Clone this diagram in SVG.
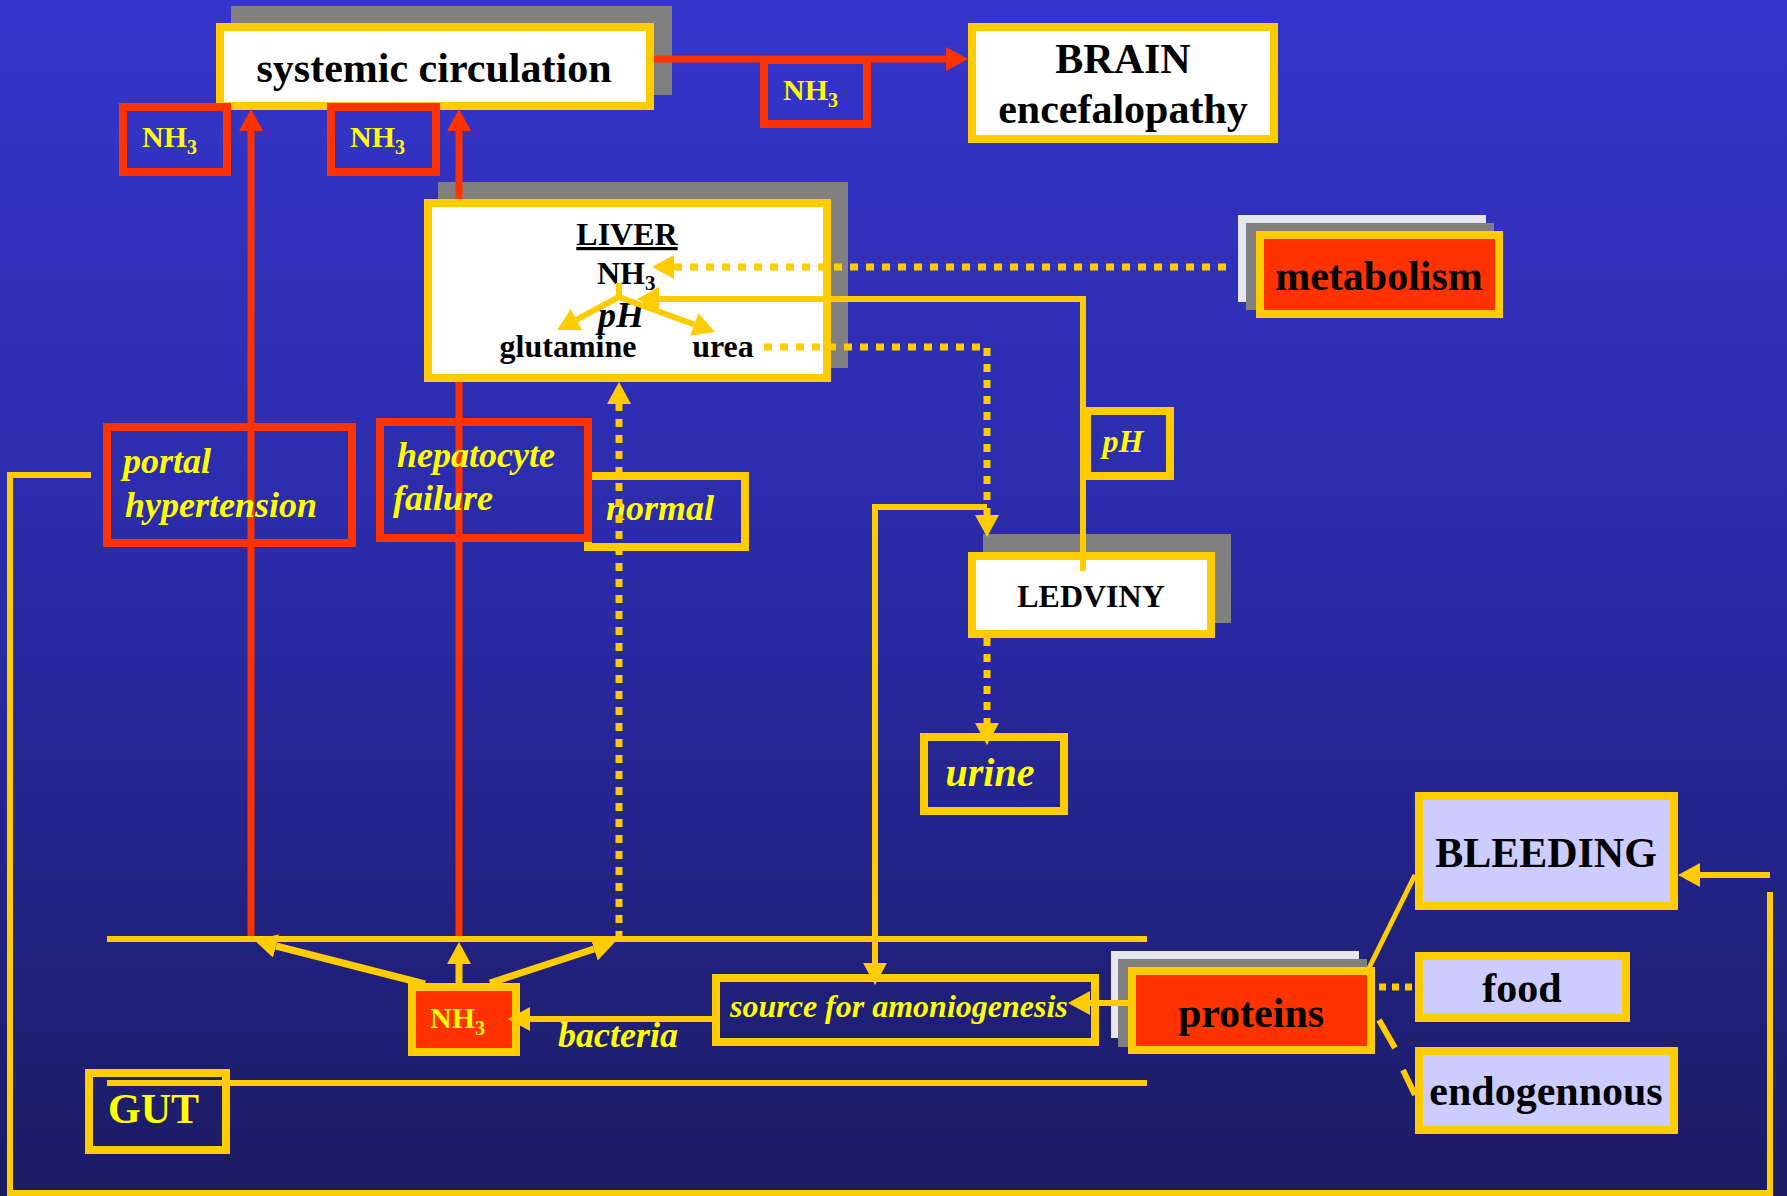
<svg xmlns="http://www.w3.org/2000/svg" width="1787" height="1196" viewBox="0 0 1787 1196">
<defs>
<linearGradient id="bg" x1="0" y1="0" x2="0" y2="1">
<stop offset="0" stop-color="#3535cc"/>
<stop offset="0.5" stop-color="#2a2aa6"/>
<stop offset="1" stop-color="#1b1b62"/>
</linearGradient>
<marker id="ay" viewBox="0 0 22 24" refX="0" refY="12" markerWidth="22" markerHeight="24" markerUnits="userSpaceOnUse" orient="auto"><path d="M0,0 L22,12 L0,24 z" fill="#ffcc00"/></marker>
<marker id="ar" viewBox="0 0 22 24" refX="0" refY="12" markerWidth="22" markerHeight="24" markerUnits="userSpaceOnUse" orient="auto"><path d="M0,0 L22,12 L0,24 z" fill="#ff3300"/></marker>
<style>
.box{stroke:#ffcc00;stroke-width:8}
.wb{fill:#ffffff}
.lav{fill:#ccccff}
.org{fill:#ff3300}
.nf{fill:none}
.rb{stroke:#ff3300;stroke-width:8;fill:none}
.sh{fill:#808080}
.bk{fill:#e6e6ee}
.t{font-family:"Liberation Serif","Times New Roman",serif;font-weight:bold;fill:#000000}
.i{font-style:italic}
.y{fill:#ffff00}
.c{text-anchor:middle}
.ln{stroke:#ffcc00;stroke-width:6;fill:none}
.dt{stroke-dasharray:8 8;stroke-width:7}
.red{stroke:#ff3300;stroke-width:7;fill:none}
</style>
</defs>
<rect x="0" y="0" width="1787" height="1196" fill="url(#bg)"/>

<g id="systemic">
<rect class="sh" x="231" y="6" width="441" height="89"/>
<rect class="box wb" x="220" y="27" width="430" height="79"/>
<text class="t c" x="434" y="82" font-size="42">systemic circulation</text>
</g>
<g id="brain">
<rect class="box wb" x="972" y="27" width="302" height="112"/>
<text class="t c" x="1123" y="73" font-size="42">BRAIN</text>
<text class="t c" x="1123" y="123" font-size="42">encefalopathy</text>
</g>
<g id="nh3-brain">
<rect class="rb" x="764" y="60" width="103" height="64"/>
<text class="t y" x="783" y="100" font-size="30">NH<tspan font-size="20" dy="7">3</tspan></text>
</g>
<g id="nh3-portal">
<rect class="rb" x="123" y="107" width="104" height="65"/>
<text class="t y" x="142" y="147" font-size="30">NH<tspan font-size="20" dy="7">3</tspan></text>
</g>
<g id="nh3-hepatocyte">
<rect class="rb" x="331" y="107" width="105" height="65"/>
<text class="t y" x="350" y="147" font-size="30">NH<tspan font-size="20" dy="7">3</tspan></text>
</g>
<g id="liver">
<rect class="sh" x="438" y="182" width="410" height="186"/>
<rect class="box wb" x="428" y="203" width="399" height="175"/>
<text class="t c" x="627" y="245" font-size="32" text-decoration="underline">LIVER</text>
<text class="t" x="597" y="284" font-size="32">NH<tspan font-size="21" dy="6">3</tspan></text>
<text class="t i c" x="621" y="327" font-size="36">pH</text>
<text class="t c" x="568" y="357" font-size="32">glutamine</text>
<text class="t c" x="723" y="357" font-size="32">urea</text>
</g>
<g id="metabolism">
<rect class="bk" x="1238" y="215" width="248" height="87"/>
<rect class="sh" x="1246" y="223" width="248" height="87"/>
<rect class="box org" x="1260" y="235" width="239" height="79"/>
<text class="t c" x="1379" y="290" font-size="42">metabolism</text>
</g>
<g id="normal">
<rect class="box nf" x="588" y="476" width="157" height="71"/>
<text class="t i y" x="606" y="520" font-size="36">normal</text>
</g>
<g id="ph">
<rect class="box nf" x="1087" y="411" width="83" height="65"/>
<text class="t i y c" x="1123" y="452" font-size="32">pH</text>
</g>
<g id="ledviny">
<rect class="sh" x="983" y="534" width="248" height="89"/>
<rect class="box wb" x="972" y="556" width="239" height="78"/>
<text class="t c" x="1091" y="607" font-size="32">LEDVINY</text>
</g>
<g id="urine">
<rect class="box nf" x="924" y="737" width="140" height="74"/>
<text class="t i y c" x="990" y="786" font-size="40">urine</text>
</g>
<g id="source">
<rect class="box nf" x="716" y="978" width="379" height="64"/>
<text class="t i y" x="730" y="1017" font-size="32">source for amoniogenesis</text>
</g>
<g id="nh3-gut">
<rect class="box org" x="412" y="987" width="104" height="65"/>
<text class="t y" x="430" y="1028" font-size="30">NH<tspan font-size="20" dy="7">3</tspan></text>
</g>
<g id="proteins">
<rect class="bk" x="1111" y="951" width="248" height="87"/>
<rect class="sh" x="1118" y="959" width="249" height="88"/>
<rect class="box org" x="1132" y="971" width="239" height="79"/>
<text class="t c" x="1251" y="1027" font-size="42">proteins</text>
</g>
<g id="bleeding">
<rect class="box lav" x="1419" y="796" width="255" height="110"/>
<text class="t c" x="1546" y="867" font-size="42">BLEEDING</text>
</g>
<g id="food">
<rect class="box lav" x="1419" y="956" width="207" height="62"/>
<text class="t c" x="1522" y="1002" font-size="42">food</text>
</g>
<g id="endogennous">
<rect class="box lav" x="1419" y="1051" width="255" height="79"/>
<text class="t c" x="1546" y="1105" font-size="42">endogennous</text>
</g>
<g id="gut">
<rect class="box nf" x="89" y="1073" width="137" height="77"/>
<text class="t y" x="108" y="1123" font-size="42">GUT</text>
</g>

<g id="connectors">
<path class="red" d="M654,59 H946" marker-end="url(#ar)"/>
<path class="red" d="M251,939 V131" marker-end="url(#ar)"/>
<path class="red" d="M459,199 V131" marker-end="url(#ar)"/>
<path class="red" d="M459,939 V382"/>
<path class="ln dt" d="M1226,267 H674" marker-end="url(#ay)"/>
<path class="ln" d="M1083,571 V299 H659" marker-end="url(#ay)"/>
<path class="ln" d="M619,283 V297"/>
<path class="ln" d="M619,297 L576.5,319.6" marker-end="url(#ay)"/>
<path class="ln" d="M619,297 L694.3,324.5" marker-end="url(#ay)"/>
<path class="ln dt" d="M764,347 H987 V515" marker-end="url(#ay)"/>
<path class="ln dt" d="M987,638 V723" marker-end="url(#ay)"/>
<path class="ln dt" d="M619,939 V404" marker-end="url(#ay)"/>
<path class="ln" d="M987,507 H875 V963" marker-end="url(#ay)"/>
<path class="ln" d="M107,939 H1147"/>
<path class="ln" d="M107,1083 H1147"/>
<path class="ln" style="stroke-width:7" d="M425,984 L276,946" marker-end="url(#ay)"/>
<path class="ln" style="stroke-width:7" d="M459,983 V964" marker-end="url(#ay)"/>
<path class="ln" style="stroke-width:7" d="M490,983 L594,949" marker-end="url(#ay)"/>
<path class="ln" d="M712,1019 H530" marker-end="url(#ay)"/>
<text class="t i y" x="558" y="1047" font-size="36">bacteria</text>
<path class="ln" d="M1128,1003 H1090" marker-end="url(#ay)"/>
<path class="ln" style="stroke-width:5" d="M1369,968 L1415,875"/>
<path class="ln" style="stroke-width:7;stroke-dasharray:7 6" d="M1379,987 H1415"/>
<path class="ln" d="M1379,1020 L1395,1048 M1403,1070 L1415,1095"/>
<path class="ln" d="M91,475 H10 V1193 H1770 V892"/>
<path class="ln" d="M1770,875 H1700" marker-end="url(#ay)"/>
</g>

<g id="portal-hypertension">
<rect class="rb" x="107" y="427" width="245" height="116"/>
<text class="t i y" x="123" y="473" font-size="36">portal</text>
<text class="t i y" x="125" y="517" font-size="36">hypertension</text>
</g>
<g id="hepatocyte-failure">
<rect class="rb" x="380" y="422" width="208" height="116"/>
<text class="t i y" x="397" y="467" font-size="36">hepatocyte</text>
<text class="t i y" x="393" y="510" font-size="36">failure</text>
</g>
</svg>
